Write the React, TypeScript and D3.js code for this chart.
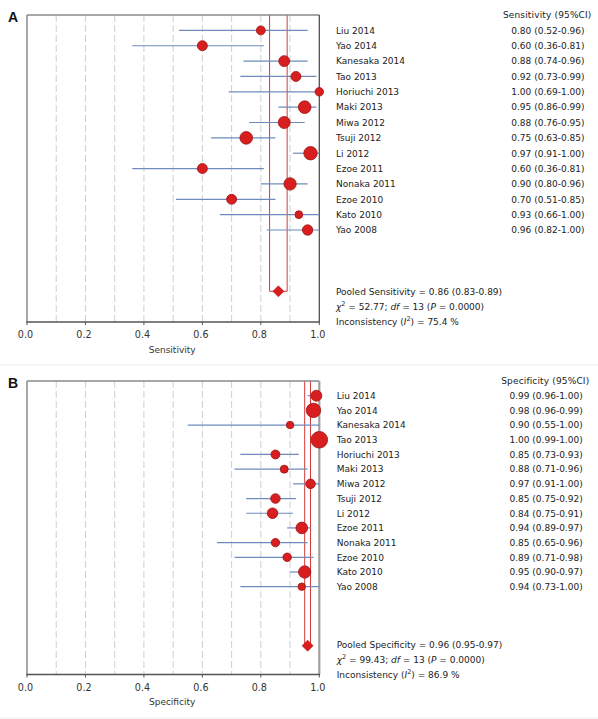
import React from "react";
import * as d3 from "d3";

const studies = [
  "Liu 2014", "Yao 2014", "Kanesaka 2014", "Tao 2013", "Horiuchi 2013", "Maki 2013", "Miwa 2012",
  "Tsuji 2012", "Li 2012", "Ezoe 2011", "Nonaka 2011", "Ezoe 2010", "Kato 2010", "Yao 2008",
];

const sensEst = [0.80, 0.60, 0.88, 0.92, 1.00, 0.95, 0.88, 0.75, 0.97, 0.60, 0.90, 0.70, 0.93, 0.96];
const sensLo = [0.52, 0.36, 0.74, 0.73, 0.69, 0.86, 0.76, 0.63, 0.91, 0.36, 0.80, 0.51, 0.66, 0.82];
const sensHi = [0.96, 0.81, 0.96, 0.99, 1.00, 0.99, 0.95, 0.85, 1.00, 0.81, 0.96, 0.85, 1.00, 1.00];
const sensWeight = [20, 25, 30, 25, 18, 40, 36, 40, 45, 25, 38, 25, 15, 27];
const sensPooled = [0.86, 0.83, 0.89];
const sensStats = { chi2: "52.77", df: "13", p: "0.0000", i2: "75.4" };

const specEst = [0.99, 0.98, 0.90, 1.00, 0.85, 0.88, 0.97, 0.85, 0.84, 0.94, 0.85, 0.89, 0.95, 0.94];
const specLo = [0.96, 0.96, 0.55, 0.99, 0.73, 0.71, 0.91, 0.75, 0.75, 0.89, 0.65, 0.71, 0.90, 0.73];
const specHi = [1.00, 0.99, 1.00, 1.00, 0.93, 0.96, 1.00, 0.92, 0.91, 0.97, 0.96, 0.98, 0.97, 1.00];
const specWeight = [30, 52, 14, 69, 20, 16, 23, 23, 28, 34, 18, 18, 38, 14];
const specPooled = [0.96, 0.95, 0.97];
const specStats = { chi2: "99.43", df: "13", p: "0.0000", i2: "86.9" };

const tickValues = [0, 0.2, 0.4, 0.6, 0.8, 1.0];
const gridValues = [0.1, 0.2, 0.3, 0.4, 0.5, 0.6, 0.7, 0.8, 0.9];

const FONT = "'DejaVu Sans', Verdana, sans-serif";
const rScale = d3.scaleSqrt().domain([0, 69]).range([0, 8.3]);

type PanelProps = {
  letter: string;
  measure: string;
  est: number[];
  lo: number[];
  hi: number[];
  weight: number[];
  pooled: number[];
  stats: { chi2: string; df: string; p: string; i2: string };
  top: number;
  bottom: number;
  rowY0: number;
  rowY1: number;
  diamondY: number;
  namesX: number;
  valuesRight: number;
  headerRight: number;
  statsY: number;
  rightBorder: string;
  rightBorderWidth: number;
};

function Panel(p: PanelProps) {
  const x = d3.scaleLinear().domain([0, 1]).range([27, 319.3]);
  const y = d3.scaleLinear().domain([0, studies.length - 1]).range([p.rowY0, p.rowY1]);
  const fmt = d3.format(".2f");
  const [pe, pl, ph] = p.pooled;
  const textColor = "#222";
  const fs = 9;
  return (
    <g fontFamily={FONT}>
      <text x={8} y={p.top + 6.5} fontSize={14} fontWeight="bold" fontFamily="'Liberation Sans', Arial, sans-serif" fill="#111">
        {p.letter}
      </text>
      {gridValues.map((g) => (
        <line key={g} x1={x(g)} x2={x(g)} y1={p.top} y2={p.bottom} stroke="#cfcfcf" strokeWidth={1} strokeDasharray="7,3" />
      ))}
      {/* pooled CI band lines */}
      <line x1={x(pl)} x2={x(pl)} y1={p.top} y2={p.diamondY} stroke="#d43a3a" strokeWidth={1} />
      <line x1={x(ph)} x2={x(ph)} y1={p.top} y2={p.diamondY} stroke="#d43a3a" strokeWidth={1} />
      <line x1={x(pl)} x2={x(ph)} y1={p.diamondY} y2={p.diamondY} stroke="#d43a3a" strokeWidth={1} />
      {/* box */}
      <line x1={x(0)} x2={x(1)} y1={p.top} y2={p.top} stroke="#8a8a8a" strokeWidth={1.5} />
      <line x1={x(0)} x2={x(0)} y1={p.top} y2={p.bottom} stroke="#8a8a8a" strokeWidth={1.5} />
      <line x1={x(1)} x2={x(1)} y1={p.top} y2={p.bottom} stroke={p.rightBorder} strokeWidth={p.rightBorderWidth} />
      <line x1={x(0) - 0.7} x2={x(1) + 0.7} y1={p.bottom} y2={p.bottom} stroke="#555" strokeWidth={1.5} />
      {tickValues.map((t) => (
        <g key={t}>
          <line x1={x(t)} x2={x(t)} y1={p.bottom} y2={p.bottom + 3} stroke="#555" strokeWidth={1} />
          <text x={x(t) - 1.5} y={p.bottom + 16} fontSize={9.6} textAnchor="middle" fill="#333">
            {d3.format(".1f")(t)}
          </text>
        </g>
      ))}
      <text x={(x(0) + x(1)) / 2 - 1} y={p.bottom + 30.5} fontSize={fs} textAnchor="middle" fill="#333">
        {p.measure}
      </text>
      {/* CI lines */}
      {studies.map((s, i) => (
        <line key={s} x1={x(p.lo[i])} x2={x(p.hi[i])} y1={y(i)} y2={y(i)} stroke="#6f8bbd" strokeWidth={1.2} />
      ))}
      {studies.map((s, i) => (
        <circle key={s} cx={x(p.est[i])} cy={y(i)} r={rScale(p.weight[i])} fill="#d81e1e" stroke="#9c1414" strokeWidth={0.8} />
      ))}
      {/* diamond */}
      <path
        d={`M${x(pe) - 5.5},${p.diamondY} L${x(pe)},${p.diamondY - 5.5} L${x(pe) + 5.5},${p.diamondY} L${x(pe)},${p.diamondY + 5.5} Z`}
        fill="#d81e1e"
        stroke="#b01010"
        strokeWidth={0.6}
      />
      {/* right table */}
      <text x={p.headerRight} y={p.top + 3.3} fontSize={fs} textAnchor="end" fill={textColor} letterSpacing={0.15}>
        {p.measure} (95%CI)
      </text>
      {studies.map((s, i) => (
        <g key={s}>
          <text x={p.namesX} y={y(i) + 3.3} fontSize={fs} fill={textColor}>
            {s}
          </text>
          <text x={p.valuesRight} y={y(i) + 3.3} fontSize={fs} textAnchor="end" fill={textColor}>
            {`${fmt(p.est[i])} (${fmt(p.lo[i])}-${fmt(p.hi[i])})`}
          </text>
        </g>
      ))}
      <text x={p.namesX} y={p.statsY + 3.3} fontSize={fs} fill={textColor}>
        {`Pooled ${p.measure} = ${fmt(pe)} (${fmt(pl)}-${fmt(ph)})`}
      </text>
      <text x={p.namesX} y={p.statsY + 15 + 3.3} fontSize={fs} fill={textColor}>
        <tspan fontStyle="italic">χ</tspan>
        <tspan fontSize={6.5} dy={-4}>2</tspan>
        <tspan dy={4}>{` = ${p.stats.chi2}; `}</tspan>
        <tspan fontStyle="italic">df</tspan>
        <tspan>{` = ${p.stats.df} (`}</tspan>
        <tspan fontStyle="italic">P</tspan>
        <tspan>{` = ${p.stats.p})`}</tspan>
      </text>
      <text x={p.namesX} y={p.statsY + 30 + 3.3} fontSize={fs} fill={textColor}>
        <tspan>Inconsistency (</tspan>
        <tspan fontStyle="italic">I</tspan>
        <tspan fontSize={6.5} dy={-4}>2</tspan>
        <tspan dy={4}>{`) = ${p.stats.i2} %`}</tspan>
      </text>
    </g>
  );
}

export default function App() {
  return (
    <svg width={598} height={719} style={{ position: "absolute", left: 0, top: 0, background: "#fff" }}>
      <rect x={0} y={0} width={598} height={719} fill="#fff" />
      <line x1={0} x2={598} y1={365} y2={365} stroke="#ececec" strokeWidth={1} />
      <line x1={0} x2={598} y1={718} y2={718} stroke="#ececec" strokeWidth={1} />
      <Panel
        letter="A"
        measure="Sensitivity"
        est={sensEst}
        lo={sensLo}
        hi={sensHi}
        weight={sensWeight}
        pooled={sensPooled}
        stats={sensStats}
        top={15}
        bottom={322}
        rowY0={30.4}
        rowY1={230}
        diamondY={291.3}
        namesX={336}
        valuesRight={584.5}
        headerRight={591.5}
        statsY={291.7}
        rightBorder="#444"
        rightBorderWidth={1.2}
      />
      <Panel
        letter="B"
        measure="Specificity"
        est={specEst}
        lo={specLo}
        hi={specHi}
        weight={specWeight}
        pooled={specPooled}
        stats={specStats}
        top={381}
        bottom={674.5}
        rowY0={395.7}
        rowY1={586.7}
        diamondY={645.7}
        namesX={336.7}
        valuesRight={582.7}
        headerRight={589.3}
        statsY={645}
        rightBorder="#a0a0a0"
        rightBorderWidth={2.2}
      />
    </svg>
  );
}
